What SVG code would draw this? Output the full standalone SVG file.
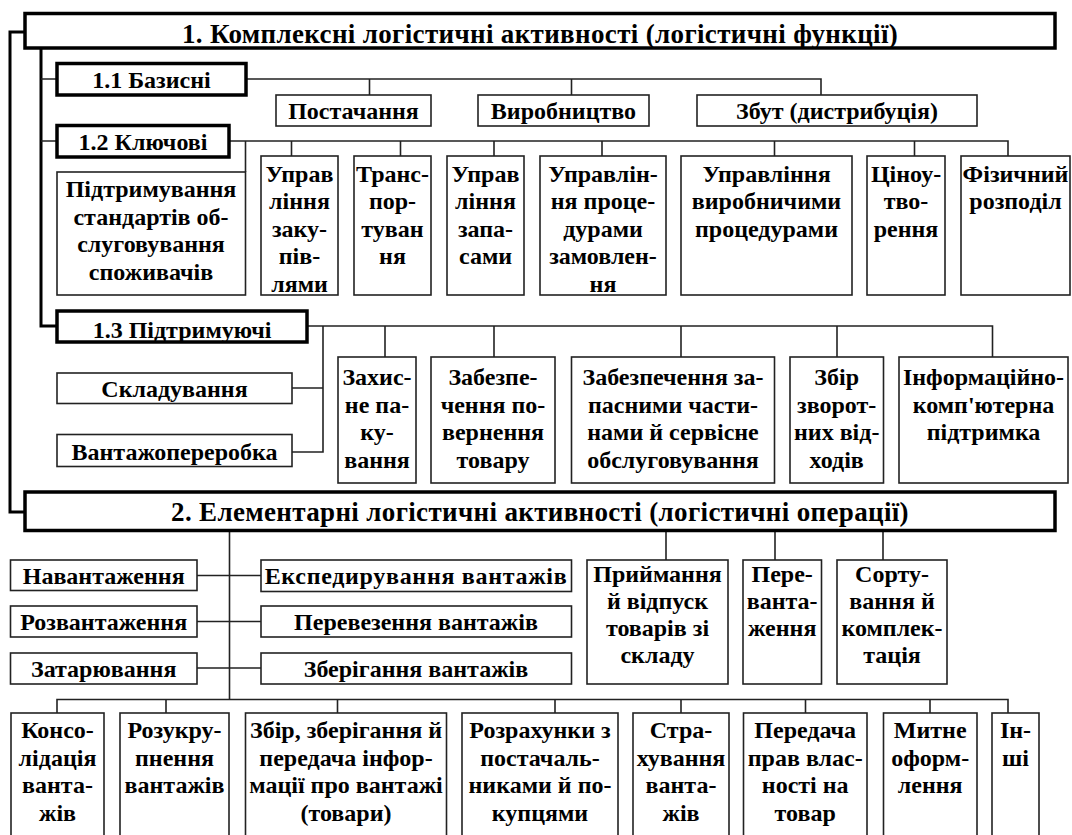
<svg xmlns="http://www.w3.org/2000/svg" width="1072" height="835" viewBox="0 0 1072 835">
<style>
.hb{fill:#fff;stroke:#000;stroke-width:3.5}
.b{fill:#fff;stroke:#222;stroke-width:1.6}
.c{fill:none;stroke:#222;stroke-width:1.6}
.m{fill:none;stroke:#000;stroke-width:3}
text{font-family:"Liberation Serif","Times New Roman",serif;font-weight:bold;font-size:24px;text-anchor:middle;fill:#000}
.tt{font-size:27px;letter-spacing:0.35px}
.ws{letter-spacing:0.7px}
</style>
<rect width="1072" height="835" fill="#fff"/>
<g id="connectors">
<path class="m" d="M25 32H10V512H25"/>
<path class="m" d="M41 48V326H57"/>
<path class="c" d="M41 79H57M41 141H57"/>
<path class="c" d="M246 79H821V95M369.5 79V95M571.5 79V95"/>
<path class="c" d="M229 141H1008V156M245.5 141V172M291.5 141V156M400.5 141V156M494 141V156M602 141V156M774.5 141V156M914.5 141V156"/>
<path class="c" d="M307 326H992.5V357M385 326V357M494 326V357M681 326V357M837 326V357M323 326V452H292M292 388H323"/>
<path class="c" d="M666 531V560M775 531V560M883 531V560"/>
<path class="c" d="M229.5 531V699.5M197 575.5H261M197 621.5H261M197 668H261"/>
<path class="c" d="M57 713V699.5H1008V713M166 699.5V713M337.5 699.5V713M555 699.5V713M681 699.5V713M805.5 699.5V713M930 699.5V713"/>
</g>
<g id="title1"><rect class="hb" x="25" y="13.5" width="1030" height="34.5"/><text class="tt" x="540" y="42.5">1. Комплексні логістичні активності (логістичні функції)</text></g>
<g id="n11"><rect class="hb" x="57" y="63.5" width="189" height="31.5"/><text x="151.5" y="88">1.1 Базисні</text></g>
<g id="postachannia"><rect class="b" x="276" y="95" width="155" height="31"/><text x="353.5" y="118.5">Постачання</text></g>
<g id="vyrobnytstvo"><rect class="b" x="478" y="95" width="171" height="31"/><text x="563.5" y="118.5">Виробництво</text></g>
<g id="zbut"><rect class="b" x="697" y="95" width="280" height="31"/><text x="837" y="118.5">Збут (дистрибуція)</text></g>
<g id="n12"><rect class="hb" x="57" y="125.5" width="172" height="31.5"/><text x="143" y="150">1.2 Ключові</text></g>
<g id="pidtrymuvannia"><rect class="b" x="57" y="172" width="188.5" height="123"/><text x="151" y="197">Підтримування</text><text x="151" y="224.5">стандартів об-</text><text x="151" y="252">слуговування</text><text x="151" y="279.5">споживачів</text></g>
<g id="zakupivli"><rect class="b" x="261" y="156" width="77" height="139"/><text x="299.5" y="181.5">Управ</text><text x="299.5" y="209">ління</text><text x="299.5" y="236.5">заку-</text><text x="299.5" y="264">пів-</text><text x="299.5" y="291.5">лями</text></g>
<g id="transport"><rect class="b" x="354" y="156" width="77" height="139"/><text x="392.5" y="181.5">Транс-</text><text x="392.5" y="209">пор-</text><text x="392.5" y="236.5">туван</text><text x="392.5" y="264">ня</text></g>
<g id="zapasy"><rect class="b" x="447" y="156" width="77" height="139"/><text x="485.5" y="181.5">Управ</text><text x="485.5" y="209">ління</text><text x="485.5" y="236.5">запа-</text><text x="485.5" y="264">сами</text></g>
<g id="zamovlennia"><rect class="b" x="540" y="156" width="126" height="139"/><text x="603" y="181.5">Управлін-</text><text x="603" y="209">ня проце-</text><text x="603" y="236.5">дурами</text><text x="603" y="264">замовлен-</text><text x="603" y="291.5">ня</text></g>
<g id="vyrobnychi"><rect class="b" x="681" y="156" width="171" height="139"/><text x="766.5" y="181.5">Управління</text><text x="766.5" y="209">виробничими</text><text x="766.5" y="236.5">процедурами</text></g>
<g id="tsinoutvorennia"><rect class="b" x="867" y="156" width="78" height="139"/><text x="906" y="181.5">Ціноу-</text><text x="906" y="209">тво-</text><text x="906" y="236.5">рення</text></g>
<g id="fizychnyi"><rect class="b" x="961" y="156" width="109" height="139"/><text x="1015.5" y="181.5">Фізичний</text><text x="1015.5" y="209">розподіл</text></g>
<g id="n13"><rect class="hb" x="57" y="311" width="250" height="31"/><text x="182" y="337.5">1.3 Підтримуючі</text></g>
<g id="skladuvannia"><rect class="b" x="57" y="373" width="235" height="30.5"/><text x="174.5" y="397">Складування</text></g>
<g id="vantazhopererobka"><rect class="b" x="57" y="434.5" width="235" height="32"/><text x="174.5" y="460">Вантажопереробка</text></g>
<g id="zakhysne"><rect class="b" x="338" y="357" width="78" height="126"/><text x="377" y="385">Захис-</text><text x="377" y="412.5">не па-</text><text x="377" y="440">ку-</text><text x="377" y="467.5">вання</text></g>
<g id="povernennia"><rect class="b" x="431" y="357" width="124" height="126"/><text x="493" y="385">Забезпе-</text><text x="493" y="412.5">чення по-</text><text x="493" y="440">вернення</text><text x="493" y="467.5">товару</text></g>
<g id="zapchastyny"><rect class="b" x="571.5" y="357" width="203" height="126"/><text x="673" y="385">Забезпечення за-</text><text x="673" y="412.5">пасними части-</text><text x="673" y="440">нами й сервісне</text><text x="673" y="467.5">обслуговування</text></g>
<g id="vidkhody"><rect class="b" x="790" y="357" width="93.5" height="126"/><text x="836.7" y="385">Збір</text><text x="836.7" y="412.5">зворот-</text><text x="836.7" y="440">них від-</text><text x="836.7" y="467.5">ходів</text></g>
<g id="informatsiina"><rect class="b" x="899" y="357" width="169" height="126"/><text x="983.5" y="385">Інформаційно-</text><text x="983.5" y="412.5">комп'ютерна</text><text x="983.5" y="440">підтримка</text></g>
<g id="title2"><rect class="hb" x="25" y="492" width="1030" height="38.5"/><text class="tt" x="540" y="521">2. Елементарні логістичні активності (логістичні операції)</text></g>
<g id="navantazhennia"><rect class="b" x="10.5" y="560" width="186.5" height="30.5"/><text x="103.7" y="584">Навантаження</text></g>
<g id="rozvantazhennia"><rect class="b" x="10.5" y="606" width="186.5" height="31"/><text x="103.7" y="630">Розвантаження</text></g>
<g id="zatariuvannia"><rect class="b" x="10.5" y="653" width="186.5" height="31"/><text x="103.7" y="676.5">Затарювання</text></g>
<g id="ekspeduvannia"><rect class="b" x="261" y="560" width="310.5" height="31.5"/><text class="ws" x="416" y="584">Експедирування вантажів</text></g>
<g id="perevezennia"><rect class="b" x="261" y="606" width="310.5" height="31"/><text x="416" y="630">Перевезення вантажів</text></g>
<g id="zberigannia"><rect class="b" x="261" y="653" width="310.5" height="31"/><text x="416" y="676.5">Зберігання вантажів</text></g>
<g id="pryimannia"><rect class="b" x="587" y="560" width="141" height="124"/><text x="657.5" y="581.5">Приймання</text><text x="657.5" y="608.5">й відпуск</text><text x="657.5" y="635.5">товарів зі</text><text x="657.5" y="662.5">складу</text></g>
<g id="perevantazhennia"><rect class="b" x="743" y="560" width="78.5" height="124"/><text x="782.2" y="581.5">Пере-</text><text x="782.2" y="608.5">ванта-</text><text x="782.2" y="635.5">ження</text></g>
<g id="sortuvannia"><rect class="b" x="837" y="560" width="110" height="124"/><text x="892" y="581.5">Сорту-</text><text x="892" y="608.5">вання й</text><text x="892" y="635.5">комплек-</text><text x="892" y="662.5">тація</text></g>
<g id="konsolidatsiia"><rect class="b" x="11" y="713" width="93" height="140"/><text x="57.5" y="738">Консо-</text><text x="57.5" y="765.5">лідація</text><text x="57.5" y="793">ванта-</text><text x="57.5" y="820.5">жів</text></g>
<g id="rozukrupnennia"><rect class="b" x="120" y="713" width="109" height="140"/><text x="174.5" y="738">Розукру-</text><text x="174.5" y="765.5">пнення</text><text x="174.5" y="793">вантажів</text></g>
<g id="informatsiia"><rect class="b" x="245.5" y="713" width="201" height="140"/><text x="346" y="738">Збір, зберігання й</text><text x="346" y="765.5">передача інфор-</text><text x="346" y="793">мації про вантажі</text><text x="346" y="820.5">(товари)</text></g>
<g id="rozrakhunky"><rect class="b" x="462" y="713" width="156" height="140"/><text x="540" y="738">Розрахунки з</text><text x="540" y="765.5">постачаль-</text><text x="540" y="793">никами й по-</text><text x="540" y="820.5">купцями</text></g>
<g id="strakhuvannia"><rect class="b" x="633" y="713" width="96" height="140"/><text x="681" y="738">Стра-</text><text x="681" y="765.5">хування</text><text x="681" y="793">ванта-</text><text x="681" y="820.5">жів</text></g>
<g id="peredacha"><rect class="b" x="743.5" y="713" width="123.5" height="140"/><text x="805.2" y="738">Передача</text><text x="805.2" y="765.5">прав влас-</text><text x="805.2" y="793">ності на</text><text x="805.2" y="820.5">товар</text></g>
<g id="mytne"><rect class="b" x="883.5" y="713" width="93.5" height="140"/><text x="930.2" y="738">Митне</text><text x="930.2" y="765.5">оформ-</text><text x="930.2" y="793">лення</text></g>
<g id="inshi"><rect class="b" x="992" y="713" width="47" height="140"/><text x="1015.5" y="738">Ін-</text><text x="1015.5" y="765.5">ші</text></g>
</svg>
